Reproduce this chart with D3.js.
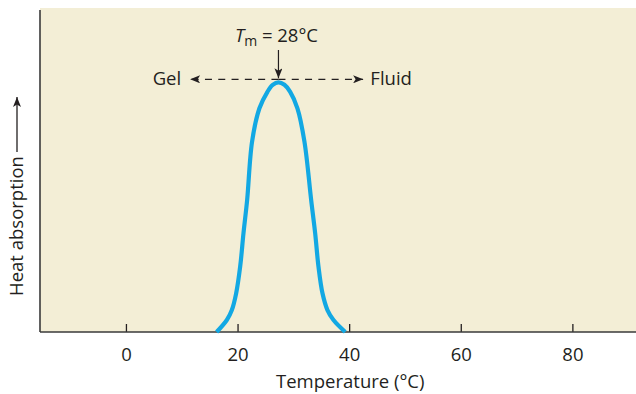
<!DOCTYPE html>
<html>
<head>
<meta charset="utf-8">
<script src="https://cdn.jsdelivr.net/npm/d3@7"></script>
<style>
  body { margin: 0; background: #fff; }
  text { font-family: "Open Sans", "Noto Sans", sans-serif; fill: #231f20; }
</style>
</head>
<body>
<svg id="chart" width="636" height="394"></svg>
<script>
// temperature (°C) and relative heat absorption
const temps = [16.25, 18.08, 18.98, 19.75, 20.47, 21.06, 21.72, 22.6, 23.92, 25.36, 26.3, 27.33,
               28.4, 29.43, 30.73, 31.99, 33.19, 33.91, 34.50, 35.22, 36.11, 37.19, 39.3];
const absorption = [0, 0.048, 0.088, 0.155, 0.262, 0.395, 0.529, 0.762, 0.896, 0.962, 0.99, 1.0,
                    0.99, 0.962, 0.896, 0.762, 0.529, 0.395, 0.262, 0.155, 0.088, 0.048, 0];
const xTicks = [0, 20, 40, 60, 80];
const peakTemp = 27.33;
const tmLabel = "28°C";

const svg = d3.select("#chart");
const margin = { top: 8, right: 0, bottom: 62, left: 40 };
const width = 636, height = 394;
const innerW = width - margin.left - margin.right;
const innerH = height - margin.top - margin.bottom;
const fs = 18.5;

const x = d3.scaleLinear().domain([-15.4, 91.4]).range([0, innerW]);
const y = d3.scaleLinear().domain([0, 1.2976]).range([innerH, 0]);

const defs = svg.append("defs");
defs.append("marker")
  .attr("id", "head")
  .attr("viewBox", "0 0 10 8")
  .attr("refX", 10).attr("refY", 4)
  .attr("markerWidth", 11).attr("markerHeight", 8)
  .attr("markerUnits", "userSpaceOnUse")
  .attr("orient", "auto")
  .append("path")
  .attr("d", "M0,0 L10,4 L0,8 L2.5,4 Z")
  .attr("fill", "#231f20");

const g = svg.append("g").attr("transform", `translate(${margin.left},${margin.top})`);

// plot background
g.append("rect")
  .attr("width", innerW).attr("height", innerH)
  .attr("fill", "#f3eed6");

// x axis with ticks pointing up into the plot
const xAxis = d3.axisBottom(x).tickValues(xTicks).tickSize(-8).tickPadding(16);
const ax = g.append("g")
  .attr("transform", `translate(0,${innerH})`)
  .call(xAxis);
ax.select(".domain").remove();
ax.selectAll(".tick line").attr("stroke", "#231f20").attr("stroke-width", 1.3);
ax.selectAll(".tick text").attr("font-size", fs).attr("fill", "#231f20")
  .attr("font-family", "'Open Sans', sans-serif");

// axis lines
g.append("line").attr("x1", 0).attr("x2", innerW).attr("y1", innerH).attr("y2", innerH)
  .attr("stroke", "#3a3a3a").attr("stroke-width", 1.6);
g.append("line").attr("x1", 0).attr("x2", 0).attr("y1", 2).attr("y2", innerH)
  .attr("stroke", "#3a3a3a").attr("stroke-width", 1.6);

// curve
const pts = temps.map((t, i) => [t, absorption[i]]);
const line = d3.line().x(d => x(d[0])).y(d => y(d[1])).curve(d3.curveCatmullRom.alpha(0.5));
g.append("path")
  .datum(pts)
  .attr("d", line)
  .attr("fill", "none")
  .attr("stroke", "#12a8e3")
  .attr("stroke-width", 4.2)
  .attr("stroke-linecap", "butt");

// annotations
const px = x(peakTemp), py = y(1.0) - 3;
g.append("line")
  .attr("x1", px).attr("x2", x(11.5))
  .attr("y1", py).attr("y2", py)
  .attr("stroke", "#231f20").attr("stroke-width", 1.2)
  .attr("stroke-dasharray", "7,6.3")
  .attr("marker-end", "url(#head)");
g.append("line")
  .attr("x1", px).attr("x2", x(42.5))
  .attr("y1", py).attr("y2", py)
  .attr("stroke", "#231f20").attr("stroke-width", 1.2)
  .attr("stroke-dasharray", "7,6.3")
  .attr("marker-end", "url(#head)");
g.append("line")
  .attr("x1", px).attr("x2", px)
  .attr("y1", 42).attr("y2", py - 1)
  .attr("stroke", "#231f20").attr("stroke-width", 1.2)
  .attr("marker-end", "url(#head)");

g.append("text")
  .attr("x", x(9.9)).attr("y", py + 6)
  .attr("text-anchor", "end")
  .attr("font-size", fs)
  .text("Gel");
g.append("text")
  .attr("x", x(43.8)).attr("y", py + 6)
  .attr("font-size", fs)
  .text("Fluid");

const tm = g.append("text")
  .attr("x", px - 2).attr("y", 34)
  .attr("text-anchor", "middle")
  .attr("font-size", fs);
tm.append("tspan").attr("font-style", "italic").text("T");
tm.append("tspan").attr("font-size", 14).attr("dy", 4).text("m");
tm.append("tspan").attr("dy", -4).text(" = " + tmLabel);

// axis titles
svg.append("text")
  .attr("x", margin.left + x(40.2)).attr("y", 388)
  .attr("text-anchor", "middle")
  .attr("font-size", fs)
  .text("Temperature (°C)");

const yt = svg.append("g").attr("transform", "translate(23,226) rotate(-90)");
yt.append("text")
  .attr("x", 0).attr("y", 0)
  .attr("text-anchor", "middle")
  .attr("font-size", fs)
  .text("Heat absorption");
yt.append("line")
  .attr("x1", 74).attr("x2", 129)
  .attr("y1", -6).attr("y2", -6)
  .attr("stroke", "#231f20").attr("stroke-width", 1.3)
  .attr("marker-end", "url(#head)");
</script>
</body>
</html>
